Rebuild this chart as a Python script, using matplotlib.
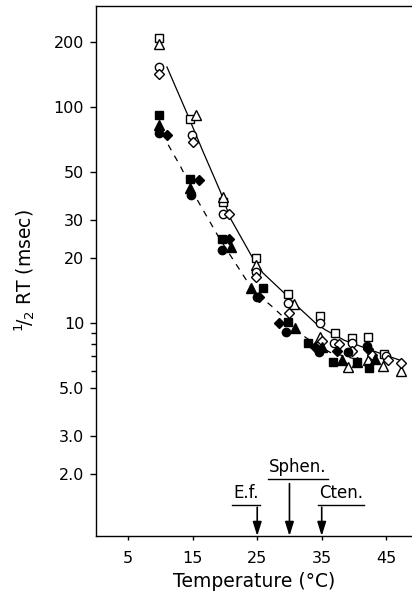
import numpy as np
import matplotlib
matplotlib.use('Agg')
import matplotlib.pyplot as plt
from matplotlib.ticker import FixedLocator, NullFormatter

# open symbols (solid curve)
open_sq_t = [9.7, 14.5, 19.7, 24.8, 29.7, 34.8, 37.1, 39.7, 42.2, 44.7]
open_sq_v = [208, 88, 36.3, 20.0, 13.6, 10.7, 9.0, 8.5, 8.6, 7.2]
open_tri_t = [9.7, 15.5, 19.7, 24.8, 30.7, 34.7, 39.1, 42.2, 44.5, 47.3]
open_tri_v = [195, 92, 38.3, 18.6, 12.2, 8.6, 6.25, 6.7, 6.3, 5.95]
open_circ_t = [9.7, 14.9, 19.7, 24.8, 29.7, 34.8, 36.9, 39.7, 45.0]
open_circ_v = [153, 74, 32, 17.2, 12.4, 10.0, 8.1, 8.1, 7.0]
open_dia_t = [9.7, 15.0, 20.7, 24.8, 30.0, 35.1, 37.7, 39.7, 42.8, 45.3, 47.3]
open_dia_v = [142, 69, 32, 16.3, 11.1, 8.2, 8.0, 7.4, 7.1, 6.7, 6.5]

# filled symbols (dashed curve)
filled_sq_t = [9.7, 14.6, 19.6, 25.9, 29.7, 32.9, 36.8, 40.5, 42.4]
filled_sq_v = [92, 46.4, 24.5, 14.5, 10.1, 8.1, 6.6, 6.6, 6.2]
filled_tri_t = [9.7, 14.6, 21.0, 24.1, 30.9, 35.0, 38.2, 40.5, 43.3]
filled_tri_v = [82.6, 42.2, 22.5, 14.5, 9.5, 7.7, 6.7, 6.6, 6.8]
filled_circ_t = [9.7, 14.7, 19.6, 25.0, 29.5, 34.6, 39.1, 42.0]
filled_circ_v = [75.8, 39.1, 21.8, 13.1, 9.1, 7.3, 7.3, 7.8]
filled_dia_t = [11.0, 16.0, 20.7, 25.3, 28.3, 33.9, 37.4, 42.2]
filled_dia_v = [74, 45.9, 24.5, 13.1, 10.0, 7.7, 7.4, 7.6]

# hand-drawn curves
solid_t = [11.0, 14.1, 16.5, 19.3, 20.8, 24.2, 25.9, 29.0, 30.6, 34.0, 35.5, 38.5, 42.5, 47.2]
solid_v = [153, 93.5, 63, 40.4, 30.6, 20.2, 17.0, 13.9, 12.4, 10.0, 9.3, 8.3, 7.5, 6.7]
dashed_t = [11.2, 13.1, 15.7, 19.0, 20.8, 23.6, 25.5, 27.3, 32.4, 33.7, 36.3, 41.0]
dashed_v = [66.7, 53, 37.1, 25, 20.6, 15.3, 13.2, 11.9, 8.6, 8.1, 7.3, 6.7]

# critical temperatures (arrows)
crit_names = ['E.f.', 'Sphen.', 'Cten.']
crit_temps = [25, 30, 35]

y_ticks = [2, 3, 5, 10, 20, 30, 50, 100, 200]
y_labels = ['2.0', '3.0', '5.0', '10', '20', '30', '50', '100', '200']
x_ticks = [5, 15, 25, 35, 45]

fig = plt.figure(figsize=(4.12, 6.03), dpi=100)
ax = fig.add_axes([96 / 412, 67 / 603, 316 / 412, 530 / 603])

ax.plot(solid_t, solid_v, color='k', lw=0.9, zorder=1)
ax.plot(dashed_t, dashed_v, color='k', lw=0.9, ls=(0, (5, 5)), zorder=1)

ms = 6
for t, v, m, s in [(open_sq_t, open_sq_v, 's', ms), (open_tri_t, open_tri_v, '^', ms + 0.5),
                   (open_circ_t, open_circ_v, 'o', ms), (open_dia_t, open_dia_v, 'D', ms - 1)]:
    ax.plot(t, v, ls='none', marker=m, ms=s, mfc='white', mec='k', mew=1.0, zorder=3)
for t, v, m, s in [(filled_sq_t, filled_sq_v, 's', ms), (filled_tri_t, filled_tri_v, '^', ms + 0.5),
                   (filled_circ_t, filled_circ_v, 'o', ms), (filled_dia_t, filled_dia_v, 'D', ms - 1)]:
    ax.plot(t, v, ls='none', marker=m, ms=s, mfc='k', mec='k', mew=1.0, zorder=3)

ax.set_yscale('log')
ax.set_xlim(0, 49)
ax.set_ylim(1.03, 293)
ax.yaxis.set_major_locator(FixedLocator(y_ticks))
ax.set_yticklabels(y_labels)
ax.yaxis.set_minor_locator(FixedLocator([6, 7, 8, 9]))
ax.yaxis.set_minor_formatter(NullFormatter())
ax.set_xticks(x_ticks)

ax.spines['right'].set_visible(False)
for s in ['left', 'top', 'bottom']:
    ax.spines[s].set_linewidth(1.0)
ax.tick_params(axis='y', which='major', direction='out', length=4.5, width=1, labelsize=11.5, pad=4)
ax.tick_params(axis='y', which='minor', direction='out', length=3.5, width=1)
ax.tick_params(axis='x', direction='out', length=3, width=1, labelsize=11.5, pad=8)

ax.set_xlabel('Temperature (°C)', fontsize=13.5, labelpad=4)
ax.set_ylabel(r'$^{1}\!/_{2}$ RT (msec)', fontsize=13.5, labelpad=12)

# annotations for critical temperatures
text_y = [1.55, 2.04, 1.55]
line_y = [1.44, 1.90, 1.44]
line_x = [(21.1, 25.5), (26.6, 36.0), (34.5, 41.6)]
arrow_top = [1.40, 1.80, 1.40]
for name, tc, ty, ly, (x0, x1), at in zip(crit_names, crit_temps, text_y, line_y, line_x, arrow_top):
    ax.text((x0 + x1) / 2, ty, name, ha='center', va='baseline', fontsize=12)
    ax.plot([x0, x1], [ly, ly], color='k', lw=1.0)
    ax.annotate('', xy=(tc, 1.03), xytext=(tc, at),
                arrowprops=dict(arrowstyle='-|>,head_length=0.7,head_width=0.22', color='k',
                                lw=1.2, mutation_scale=12, shrinkA=0, shrinkB=0))

fig.savefig('out.png', dpi=100)
